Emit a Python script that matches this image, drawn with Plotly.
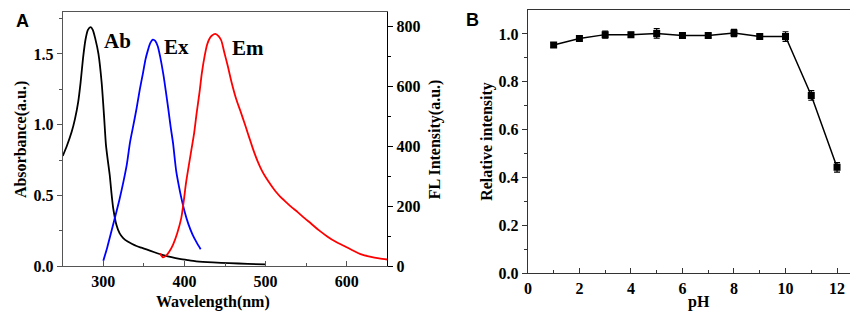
import plotly.graph_objects as go

# ---- Panel A data ----
ab_wl = [250, 255, 261, 265, 269, 272, 275, 278, 281, 284.4, 287, 290, 294, 297.9, 300.8, 303.2, 305.5, 308,
         310, 312.2, 316.3, 320, 324.5, 330, 335, 340.9, 347, 353.2, 363, 373.7, 384, 394, 404, 414.5, 435,
         455.5, 478, 500]
ab_val = [0.78, 0.85, 0.95, 1.04, 1.16, 1.30, 1.47, 1.60, 1.67, 1.69, 1.67, 1.61, 1.50, 1.30, 1.07, 0.86, 0.75, 0.64,
          0.52, 0.41, 0.29, 0.235, 0.20, 0.175, 0.16, 0.144, 0.132, 0.12, 0.10, 0.08, 0.065, 0.053, 0.044, 0.036, 0.028,
          0.023, 0.018, 0.014]

ex_wl = [300, 305, 310, 315, 320, 325, 329, 333, 337, 341, 345, 349, 352, 355, 358, 361, 364, 367, 370, 374,
         377, 380, 383, 386, 388, 390, 393, 396, 400, 405, 410, 415, 420]
ex_val = [19, 65, 117, 170, 224, 285, 340, 415, 470, 527, 590, 646, 690, 721, 745, 756, 752, 735, 700, 640,
          585, 527, 465, 410, 360, 315, 270, 230, 185, 140, 106, 80, 57]

em_wl = [370, 373.6, 377, 381, 386, 391, 396, 399, 402, 405, 408.4, 412, 415, 418.6, 421.5, 424.8, 428, 431, 434,
         438, 442, 445.3, 449, 453.5, 458, 463.7, 469, 474, 478, 482, 486, 490, 495, 500, 507, 513, 518, 523,
         531, 539.6, 548, 556, 566, 576, 586, 597, 607, 617, 630, 640, 650]
em_val = [43, 30, 35, 48, 73, 110, 160, 215, 279, 330, 386, 445, 510, 581, 645, 700, 740, 760, 770,
          775, 768, 754, 715, 667, 615, 559, 518, 478, 445, 412, 380, 352, 322, 298, 270, 248, 233, 220,
          200, 181, 161, 143, 120, 100, 83, 68, 54, 41, 32, 27, 23]

# ---- Panel B data ----
ph = [1, 2, 3, 4, 5, 6, 7, 8, 9, 10, 11, 12]
rel = [0.954, 0.981, 0.997, 0.997, 1.002, 0.993, 0.993, 1.004, 0.989, 0.989, 0.743, 0.443]
rel_err = [0.01, 0.01, 0.015, 0.01, 0.02, 0.008, 0.008, 0.015, 0.01, 0.02, 0.02, 0.02]

W, H = 858, 315
def px(x): return x / W
def py(y): return 1 - y / H

SERIF = "Liberation Serif"
tfont = dict(family=SERIF, size=16, color="black", weight="bold")

fig = go.Figure()
fig.add_trace(go.Scatter(x=ab_wl, y=ab_val, mode="lines",
                         line=dict(color="black", width=1.8, shape="spline", smoothing=0.6),
                         xaxis="x", yaxis="y", showlegend=False))
fig.add_trace(go.Scatter(x=ex_wl, y=ex_val, mode="lines",
                         line=dict(color="#0000ff", width=1.8, shape="spline", smoothing=0.8),
                         xaxis="x", yaxis="y2", showlegend=False))
fig.add_trace(go.Scatter(x=em_wl, y=em_val, mode="lines",
                         line=dict(color="#ff0000", width=1.8, shape="spline", smoothing=0.8),
                         xaxis="x", yaxis="y2", showlegend=False))
fig.add_trace(go.Scatter(x=ph, y=rel, mode="lines+markers",
                         line=dict(color="black", width=1.5),
                         marker=dict(symbol="square", size=7, color="black"),
                         error_y=dict(type="data", array=rel_err, color="black", thickness=1.2, width=3),
                         xaxis="x3", yaxis="y3", showlegend=False))

axcol = "#555555"
common = dict(showgrid=False, zeroline=False, showline=True, linewidth=1.2,
              tickfont=tfont, ticklen=5, tickwidth=1.2)

fig.update_layout(
    width=W, height=H, margin=dict(l=0, r=0, t=0, b=0),
    paper_bgcolor="white", plot_bgcolor="white",
    xaxis=dict(domain=[px(51), px(377)], range=[250, 650], anchor="y", tickvals=[300, 400, 500, 600],
               ticks="inside", linecolor=axcol, tickcolor=axcol, mirror=True,
               minor=dict(tickvals=[250, 350, 450, 550, 650], ticks="inside", ticklen=3, tickcolor=axcol),
               **common),
    yaxis=dict(domain=[py(266), py(4)], range=[0, 1.797], anchor="x", tickvals=[0, 0.5, 1.0, 1.5],
               ticktext=["0.0", "0.5", "1.0", "1.5"],
               ticks="outside", linecolor=axcol, tickcolor=axcol,
               minor=dict(tickvals=[0.25, 0.75, 1.25, 1.75], ticks="outside", ticklen=3, tickcolor=axcol),
               **common),
    yaxis2=dict(domain=[py(266), py(4)], range=[0, 848.5], anchor="x", overlaying="y", side="right",
                tickvals=[0, 200, 400, 600, 800], ticks="outside", linecolor="black", tickcolor="black",
                minor=dict(tickvals=[100, 300, 500, 700], ticks="outside", ticklen=3, tickcolor="black"),
                **common),
    xaxis3=dict(domain=[px(518.3), px(853.5)], range=[0, 12.95], anchor="y3",
                tickvals=[0, 2, 4, 6, 8, 10, 12], ticks="inside", linecolor="#333333", tickcolor="#333333",
                mirror=True,
                minor=dict(tickvals=[1, 3, 5, 7, 9, 11], ticks="inside", ticklen=3, tickcolor="#333333"),
                **common),
    yaxis3=dict(domain=[py(273.3), py(2.5)], range=[0, 1.098], anchor="x3",
                tickvals=[0, 0.2, 0.4, 0.6, 0.8, 1.0], ticktext=["0.0", "0.2", "0.4", "0.6", "0.8", "1.0"],
                ticks="outside", linecolor="#333333", tickcolor="#333333", mirror=True,
                minor=dict(tickvals=[0.1, 0.3, 0.5, 0.7, 0.9], ticks="outside", ticklen=3, tickcolor="#333333"),
                **common),
)

ann = []
def add(text, x, y, size=16, angle=0, family=SERIF, xref="paper", yref="paper"):
    ann.append(dict(text=text, x=x, y=y, xref=xref, yref=yref, showarrow=False, textangle=angle,
                    font=dict(family=family, size=size, color="black", weight="bold"),
                    xanchor="center", yanchor="middle"))

# curve labels
add("Ab", 317, 1.59, size=21, xref="x", yref="y")
add("Ex", 390, 1.55, size=21, xref="x", yref="y")
add("Em", 478, 1.54, size=21, xref="x", yref="y")
# axis titles
add("Absorbance(a.u.)", px(9), py(135), angle=-90)
add("FL Intensity(a.u.)", px(425), py(135), angle=-90)
add("Wavelength(nm)", px(202), py(303))
add("Relative intensity", px(477), py(137), angle=-90)
add("pH", px(690), py(303))
# panel labels
add("A", px(11), py(13), size=18, family="Liberation Sans")
add("B", px(463), py(12), size=18, family="Liberation Sans")

fig.update_layout(annotations=ann)
fig.write_html("out.html")
